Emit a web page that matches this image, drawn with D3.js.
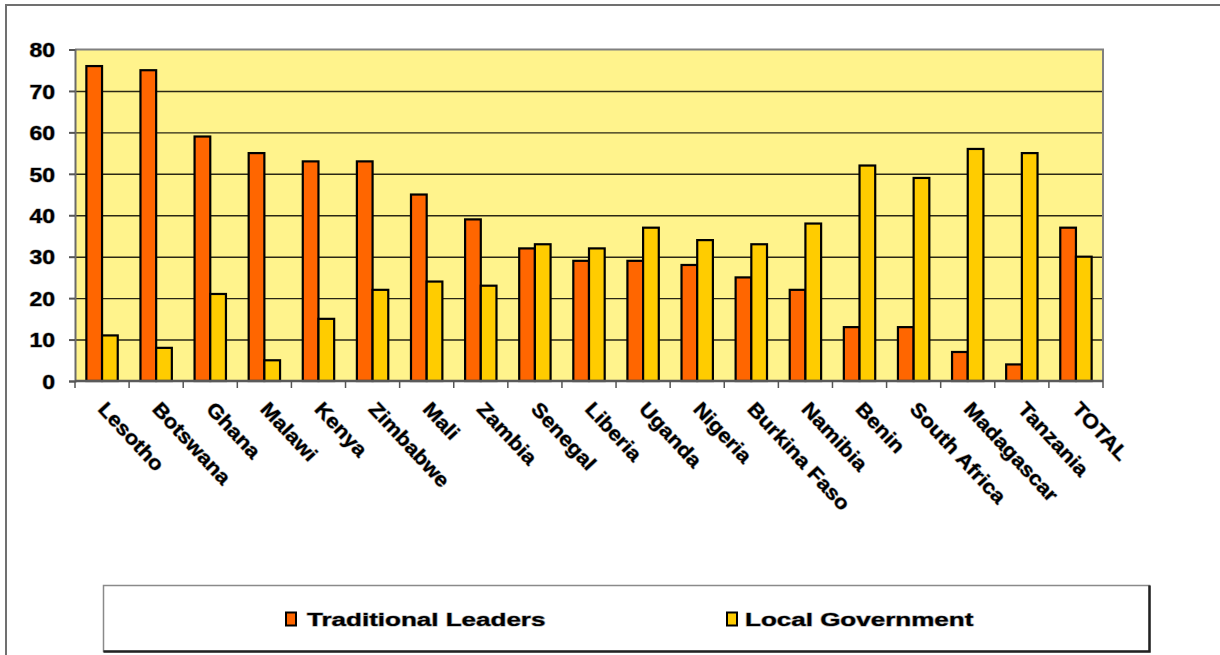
<!DOCTYPE html>
<html>
<head>
<meta charset="utf-8">
<script src="https://cdn.jsdelivr.net/npm/d3@7/dist/d3.min.js"></script>
<style>
  html, body { margin: 0; padding: 0; background: #fff; }
  svg { display: block; font-family: "Liberation Sans", Arial, sans-serif; }
  .lbl { paint-order: stroke; stroke: #a8a8a8; stroke-width: 1.2px; stroke-linejoin: round; }
</style>
</head>
<body>
<svg id="chart" width="1220" height="655"></svg>
<script>
// Share of respondents (%) naming each authority, by country
const categories = ["Lesotho", "Botswana", "Ghana", "Malawi", "Kenya", "Zimbabwe", "Mali", "Zambia",
  "Senegal", "Liberia", "Uganda", "Nigeria", "Burkina Faso", "Namibia", "Benin", "South Africa",
  "Madagascar", "Tanzania", "TOTAL"];
const traditionalLeaders = [76, 75, 59, 55, 53, 53, 45, 39, 32, 29, 29, 28, 25, 22, 13, 13, 7, 4, 37];
const localGovernment    = [11, 8, 21, 5, 15, 22, 24, 23, 33, 32, 37, 34, 33, 38, 52, 49, 56, 55, 30];
const seriesNames = ["Traditional Leaders", "Local Government"];
const yTickValues = [0, 10, 20, 30, 40, 50, 60, 70, 80];

const colors = ["#FF6600", "#FFCC00"];
const svg = d3.select("#chart");

// Outer chart frame
svg.append("path")
  .attr("d", "M6,655 V5 H1220")
  .attr("fill", "none").attr("stroke", "#707070").attr("stroke-width", 2);

const plot = { left: 75, right: 1103, top: 49.5, bottom: 381 };

const x = d3.scaleBand().domain(categories).range([plot.left, plot.right]);
const y = d3.scaleLinear().domain([0, 80]).range([plot.bottom, plot.top]);

// Plot background
svg.append("rect")
  .attr("x", plot.left).attr("y", plot.top)
  .attr("width", plot.right - plot.left).attr("height", plot.bottom - plot.top)
  .attr("fill", "#FFF38C");

// Horizontal gridlines
const grid = svg.append("g")
  .attr("transform", `translate(${plot.left},0)`)
  .call(d3.axisLeft(y).tickValues(yTickValues.filter(v => v > 0 && v < 80))
    .tickSize(-(plot.right - plot.left)).tickFormat(""));
grid.select(".domain").remove();
grid.selectAll(".tick line").attr("stroke", "#2a2714").attr("stroke-width", 1.4);

// Plot frame: top and right edges
svg.append("path")
  .attr("d", `M${plot.left},${plot.top} H${plot.right} V${plot.bottom}`)
  .attr("fill", "none").attr("stroke", "#808080").attr("stroke-width", 2);

// Bars
const bandW = x.bandwidth();
const barW = bandW * 0.29;
const offset = (bandW - 2 * barW) / 2;
const seriesData = [traditionalLeaders, localGovernment];

seriesData.forEach((vals, s) => {
  svg.append("g").selectAll("rect")
    .data(categories.map((c, i) => ({ c, v: vals[i] })))
    .join("rect")
    .attr("x", d => x(d.c) + offset + s * barW)
    .attr("y", d => y(d.v))
    .attr("width", barW)
    .attr("height", d => y(0) - y(d.v))
    .attr("fill", colors[s])
    .attr("stroke", "#000")
    .attr("stroke-width", 2.2);
});

// Y axis
const yStretch = 1.15;
const yAxis = svg.append("g")
  .attr("transform", `translate(${plot.left},0)`)
  .call(d3.axisLeft(y).tickValues(yTickValues).tickSize(6).tickPadding(14));
yAxis.select(".domain").attr("stroke", "#6a6a6a").attr("stroke-width", 2);
yAxis.selectAll(".tick line").attr("stroke", "#555").attr("stroke-width", 2);
yAxis.selectAll(".tick text")
  .attr("class", "lbl")
  .attr("fill", "#000")
  .style("font-size", "20px").style("font-weight", "bold")
  .attr("x", -20 / yStretch)
  .attr("transform", `scale(${yStretch},1)`)
  .attr("dy", "0.36em");

// X axis baseline and tick marks at category boundaries
svg.append("line")
  .attr("x1", plot.left).attr("x2", plot.right)
  .attr("y1", plot.bottom).attr("y2", plot.bottom)
  .attr("stroke", "#5a5a5a").attr("stroke-width", 2.5);

const boundaries = categories.map(c => x(c)).concat([x.range()[1]]);
svg.append("g").selectAll("line")
  .data(boundaries)
  .join("line")
  .attr("x1", d => d).attr("x2", d => d)
  .attr("y1", plot.bottom).attr("y2", plot.bottom + 7)
  .attr("stroke", "#555").attr("stroke-width", 1.5);

// Rotated category labels
svg.append("g").selectAll("text")
  .data(categories)
  .join("text")
  .attr("class", "lbl")
  .attr("transform", c => `translate(${x(c) + bandW / 2 - 5},${plot.bottom + 29}) rotate(47) scale(1.1,1)`)
  .attr("text-anchor", "start")
  .style("font-size", "20px").style("font-weight", "bold")
  .attr("fill", "#000")
  .text(c => c);

// Legend box
const lg = { x: 103.5, y: 585.5, w: 1046, h: 66 };
svg.append("rect")
  .attr("x", lg.x).attr("y", lg.y).attr("width", lg.w).attr("height", lg.h)
  .attr("fill", "#fff").attr("stroke", "#8a8a8a").attr("stroke-width", 1.5);
svg.append("path")
  .attr("d", `M${lg.x},${lg.y + lg.h} H${lg.x + lg.w} V${lg.y}`)
  .attr("fill", "none").attr("stroke", "#222").attr("stroke-width", 2.5);

const legendItems = [
  { name: seriesNames[0], color: colors[0], sx: 286, tx: 307 },
  { name: seriesNames[1], color: colors[1], sx: 727, tx: 745 }
];
const leg = svg.append("g").selectAll("g").data(legendItems).join("g");
leg.append("rect")
  .attr("x", d => d.sx).attr("y", 612.5)
  .attr("width", 10).attr("height", 13)
  .attr("fill", d => d.color).attr("stroke", "#000").attr("stroke-width", 2);
leg.append("text")
  .attr("class", "lbl")
  .attr("transform", d => `translate(${d.tx},626) scale(1.37,1)`)
  .style("font-size", "19px").style("font-weight", "bold")
  .attr("fill", "#000")
  .text(d => d.name);
</script>
</body>
</html>
